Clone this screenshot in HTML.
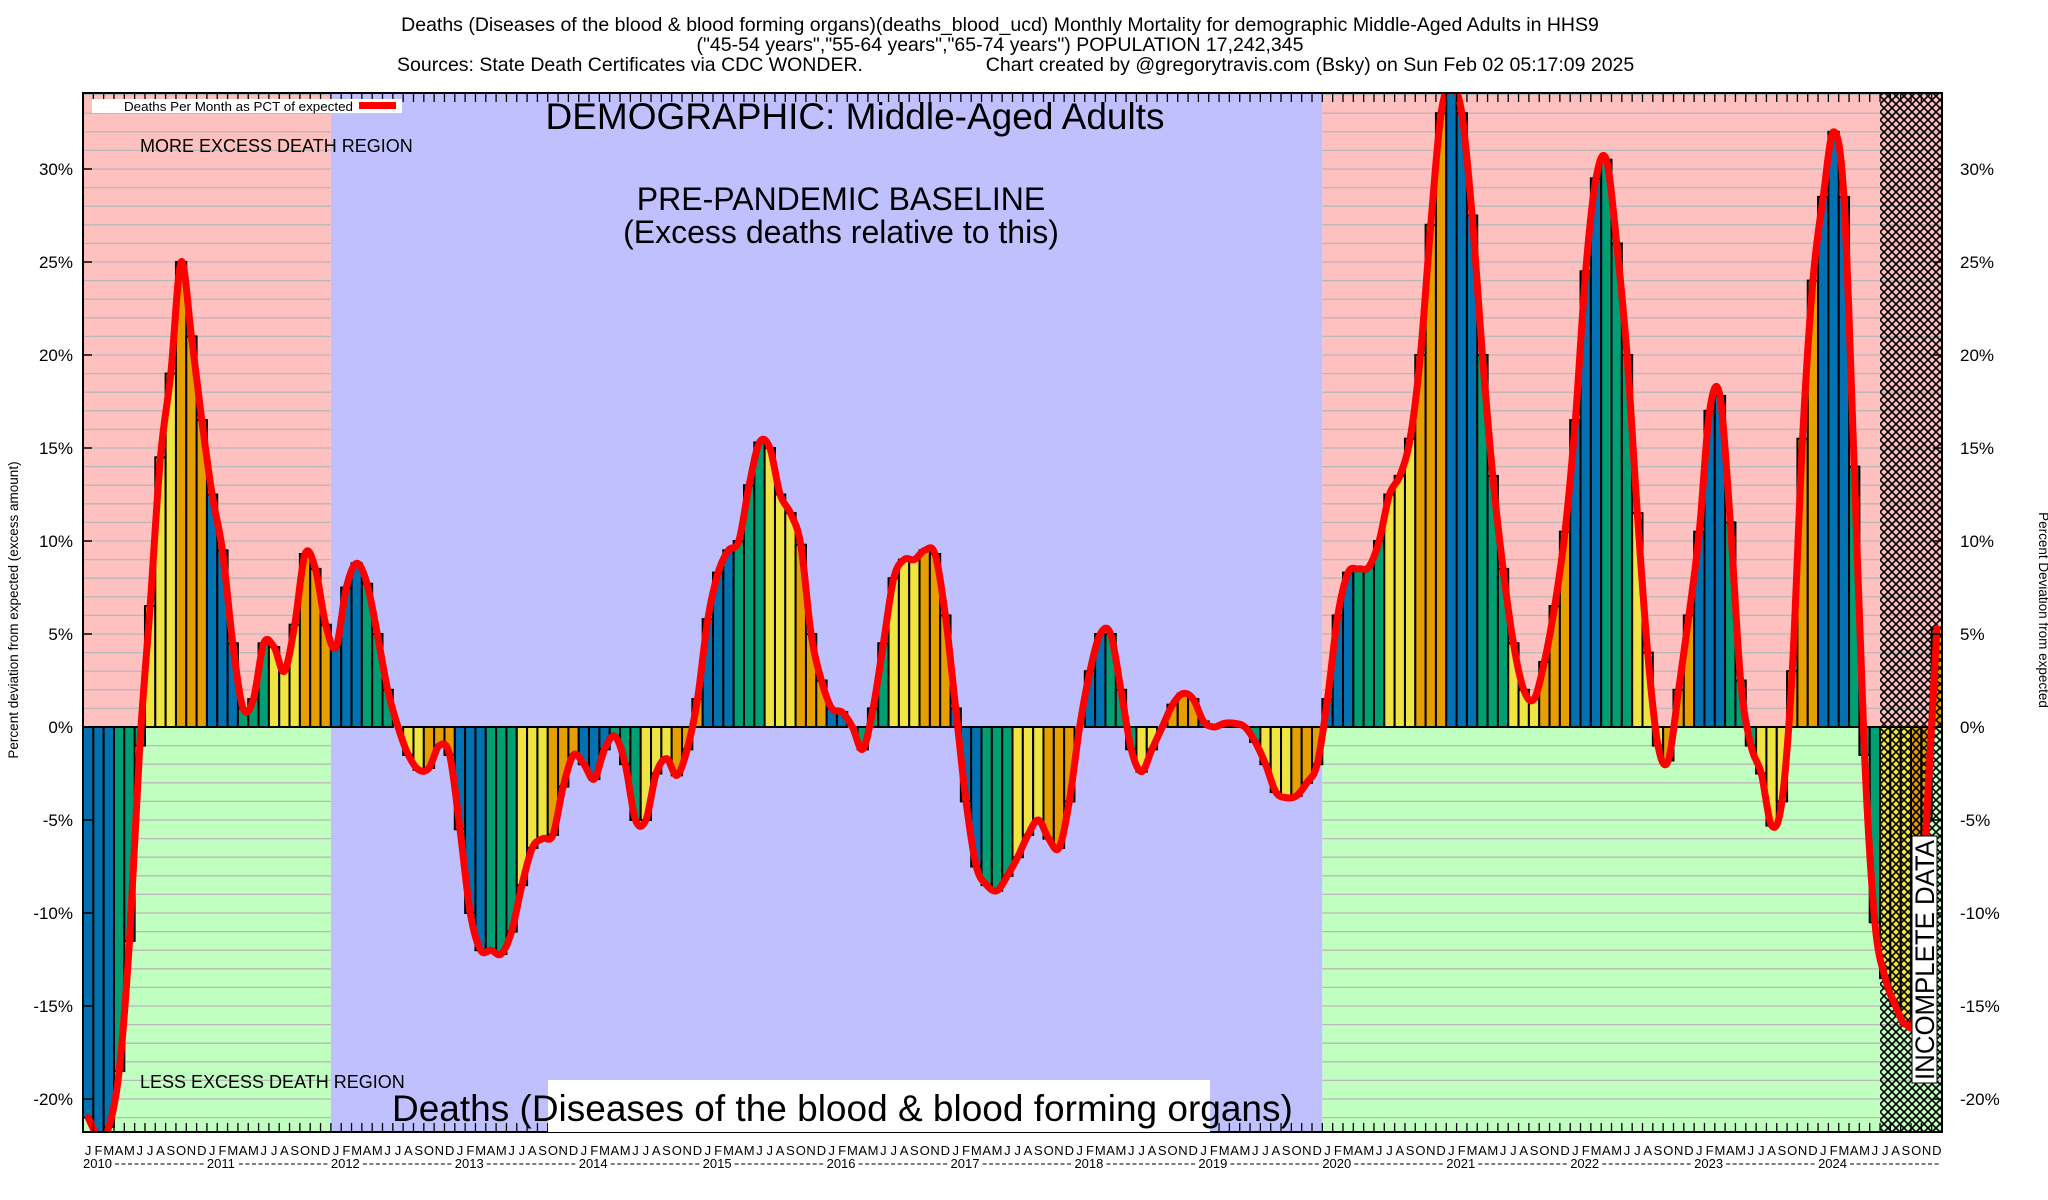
<!DOCTYPE html>
<html><head><meta charset="utf-8"><style>
html,body{margin:0;padding:0;background:#fff;}
svg{display:block;font-family:"Liberation Sans",Arial,sans-serif;}
</style></head><body>
<svg id="chart" width="2048" height="1200" viewBox="0 0 2048 1200" xmlns="http://www.w3.org/2000/svg">
<defs>
<pattern id="hatch" patternUnits="userSpaceOnUse" width="8" height="8">
<path d="M0,0 L8,8 M8,0 L0,8" stroke="#000" stroke-width="1.6"/>
</pattern>
<clipPath id="plotclip"><rect x="83" y="93" width="1859" height="1039"/></clipPath>
</defs>
<g font-size="19.5" text-anchor="middle">
<text x="1000" y="31">Deaths (Diseases of the blood &amp; blood forming organs)(deaths_blood_ucd) Monthly Mortality for demographic Middle-Aged Adults in HHS9</text>
<text x="1000" y="51">("45-54 years","55-64 years","65-74 years") POPULATION 17,242,345</text>
<text x="630" y="71">Sources: State Death Certificates via CDC WONDER.</text>
<text x="1310" y="71">Chart created by @gregorytravis.com (Bsky) on Sun Feb 02 05:17:09 2025</text>
</g>
<g id="bg"></g>
<g id="grid"></g>
<g id="bars" clip-path="url(#plotclip)"></g>
<rect x="1880" y="93" width="62" height="1039" fill="url(#hatch)"/>
<g id="line" clip-path="url(#plotclip)"></g>
<g id="axes"></g>
<g>
<rect x="92" y="99" width="310" height="14" fill="#fff"/>
<text x="124" y="111" font-size="13" textLength="229" lengthAdjust="spacingAndGlyphs">Deaths Per Month as PCT of expected</text>
<rect x="359" y="102" width="37" height="7" fill="#f00"/>
</g>
<text x="140" y="152" font-size="18">MORE EXCESS DEATH REGION</text>
<text x="140" y="1088" font-size="18">LESS EXCESS DEATH REGION</text>
<text x="855" y="129" font-size="37" text-anchor="middle">DEMOGRAPHIC: Middle-Aged Adults</text>
<text x="841" y="210" font-size="32" text-anchor="middle">PRE-PANDEMIC BASELINE</text>
<text x="841" y="243" font-size="32" text-anchor="middle">(Excess deaths relative to this)</text>
<rect x="548" y="1080" width="662" height="52" fill="#fff"/>
<text x="392" y="1121" font-size="37">Deaths (Diseases of the blood &amp; blood forming organs)</text>
<g>
<rect x="1912" y="836" width="25" height="247" fill="#fff" stroke="#000" stroke-width="1"/>
<text transform="translate(1934,1080) rotate(-90)" font-size="27" textLength="240" lengthAdjust="spacingAndGlyphs">INCOMPLETE DATA</text>
</g>
<text transform="translate(18,610) rotate(-90)" font-size="13.5" text-anchor="middle">Percent deviation from expected (excess amount)</text>
<text transform="translate(2039,610) rotate(90)" font-size="13.5" text-anchor="middle">Percent Deviation from expected</text>
</svg>
<script>
const startYear = 2010;
const monthLetters = ["J","F","M","A","M","J","J","A","S","O","N","D"];
const yTicks = [-20,-15,-10,-5,0,5,10,15,20,25,30];
const values2010 = [-21,-22,-21.5,-18.5,-11.5,-1,6.5,14.5,19,25,21,16.5];
const values2011 = [12.5,9.5,4.5,1,1.5,4.5,4.3,3,5.5,9.3,8.5,5.5];
const values2012 = [4.3,7.5,8.8,7.7,5,2,0,-1.5,-2.3,-2.2,-1,-1.5];
const values2013 = [-5.5,-10,-12,-12,-12.2,-11,-8.5,-6.5,-6,-5.8,-3.2,-1.5];
const values2014 = [-2,-2.8,-1.2,-0.5,-2,-5,-5,-2.5,-1.7,-2.6,-1.2,1.5];
const values2015 = [5.8,8.3,9.5,10,13,15.3,15,12.5,11.5,9.8,5,2.5];
const values2016 = [1,0.8,0,-1.2,1,4.5,8,9,9,9.5,9.3,6];
const values2017 = [1,-4,-7.5,-8.5,-8.8,-8,-7,-5.8,-5,-6,-6.5,-4];
const values2018 = [0,3,5,5,2,-1.2,-2.4,-1.2,0,1.2,1.8,1.5];
const values2019 = [0.3,0,0.2,0.2,0,-0.8,-2,-3.5,-3.8,-3.7,-3,-2];
const values2020 = [1.5,6,8.3,8.5,8.6,10,12.5,13.5,15.5,20,27,33];
const values2021 = [34.5,33,27.5,20,13.5,8.5,4.5,2,1.5,3.5,6.5,10.5];
const values2022 = [16.5,24.5,29.5,30.5,26,20,11.5,4,-1,-1.8,2,6];
const values2023 = [10.5,17,17.8,11,2.5,-1,-2.5,-5.3,-4,3,15.5,24];
const values2024 = [28.5,32,28.5,14,-1.5,-10.5,-13.5,-15,-16,-15,-5,5.3];
const series = [].concat(values2010,values2011,values2012,values2013,values2014,values2015,values2016,values2017,values2018,values2019,values2020,values2021,values2022,values2023,values2024);

const NS="http://www.w3.org/2000/svg";
const L=83,R=1942,T=93,B=1132,N=series.length;
const MW=(R-L)/N;
const X=i=>L+i*MW;
const Y=v=>727-v*18.6;
const seasonColors=["#0072B2","#009E73","#F0E442","#E69F00"];
function mk(tag,attrs,parent){const e=document.createElementNS(NS,tag);for(const k in attrs)e.setAttribute(k,attrs[k]);parent.appendChild(e);return e;}

const bg=document.getElementById('bg');
let r;
r=mk('rect',{x:L,y:T,width:X(24)-L,height:Y(0)-T,fill:'#ffc0c0'},bg);

r=mk('rect',{x:L,y:Y(0),width:X(24)-L,height:B-Y(0),fill:'#c0ffc0'},bg);

r=mk('rect',{x:X(24),y:T,width:X(120)-X(24),height:B-T,fill:'#c0c0ff'},bg);

r=mk('rect',{x:X(120),y:T,width:R-X(120),height:Y(0)-T,fill:'#ffc0c0'},bg);

r=mk('rect',{x:X(120),y:Y(0),width:R-X(120),height:B-Y(0),fill:'#c0ffc0'},bg);


const grid=document.getElementById('grid');
for(let v=-21;v<=34;v++){
  if(Y(v)<=T+1||Y(v)>=B-1)continue;
  [[L,X(24)],[X(120),R]].forEach(s=>{
    const g=mk('line',{x1:s[0],x2:s[1],y1:Y(v),y2:Y(v),stroke:'#b8b8b8','stroke-width':1.3},grid);
    
    
  });
}

const bars=document.getElementById('bars');
series.forEach((v,i)=>{
  const y0=Math.min(Y(v),Y(0)),h=Math.abs(Y(v)-Y(0));
  const b=mk('rect',{x:X(i),y:y0,width:MW,height:h,fill:seasonColors[Math.floor((i%12)/3)],stroke:'#000','stroke-width':2},bars);
  
  
});

const pts=series.map((v,i)=>[X(i)+MW/2,Y(v)]);
let d='M'+pts[0][0]+','+pts[0][1];
for(let i=0;i<pts.length-1;i++){
  const p0=pts[Math.max(0,i-1)],p1=pts[i],p2=pts[i+1],p3=pts[Math.min(pts.length-1,i+2)];
  const c1=[p1[0]+(p2[0]-p0[0])/6,p1[1]+(p2[1]-p0[1])/6];
  const c2=[p2[0]-(p3[0]-p1[0])/6,p2[1]-(p3[1]-p1[1])/6];
  d+=` C${c1[0]},${c1[1]} ${c2[0]},${c2[1]} ${p2[0]},${p2[1]}`;
}
const ln=mk('path',{d:d,fill:'none',stroke:'#ff0000','stroke-width':7,'stroke-linejoin':'round','stroke-linecap':'round'},document.getElementById('line'));



const ax=document.getElementById('axes');
const fr=mk('rect',{x:L,y:T,width:R-L,height:B-T,fill:'none',stroke:'#000','stroke-width':2},ax);

yTicks.forEach(v=>{
  mk('line',{x1:L,x2:L+9,y1:Y(v),y2:Y(v),stroke:'#000','stroke-width':1.5},ax);
  mk('line',{x1:R-9,x2:R,y1:Y(v),y2:Y(v),stroke:'#000','stroke-width':1.5},ax);
  const tl=mk('text',{x:73,y:Y(v)+6,'font-size':17,'text-anchor':'end'},ax);
  tl.textContent=v+'%';
  
  const tr=mk('text',{x:1960,y:Y(v)+6,'font-size':17},ax);
  tr.textContent=v+'%';
  
});
for(let i=0;i<N;i++){
  mk('line',{x1:X(i),x2:X(i),y1:B,y2:B-9,stroke:'#000','stroke-width':1.3},ax);
  mk('line',{x1:X(i),x2:X(i),y1:T,y2:T+9,stroke:'#000','stroke-width':1.3},ax);
  const m=mk('text',{x:X(i)+MW/2,y:1155,'font-size':13,'text-anchor':'middle'},ax);
  m.textContent=monthLetters[i%12];
  
}
for(let yr=0;yr<N/12;yr++){
  const t=mk('text',{x:X(yr*12),y:1168,'font-size':13},ax);
  t.textContent=(startYear+yr)+'';
  
  const dsh=mk('line',{x1:X(yr*12)+32,x2:X(yr*12+12)-2,y1:1164,y2:1164,stroke:'#000','stroke-width':1,'stroke-dasharray':'4,2.5'},ax);
  
}
</script>
</body></html>
